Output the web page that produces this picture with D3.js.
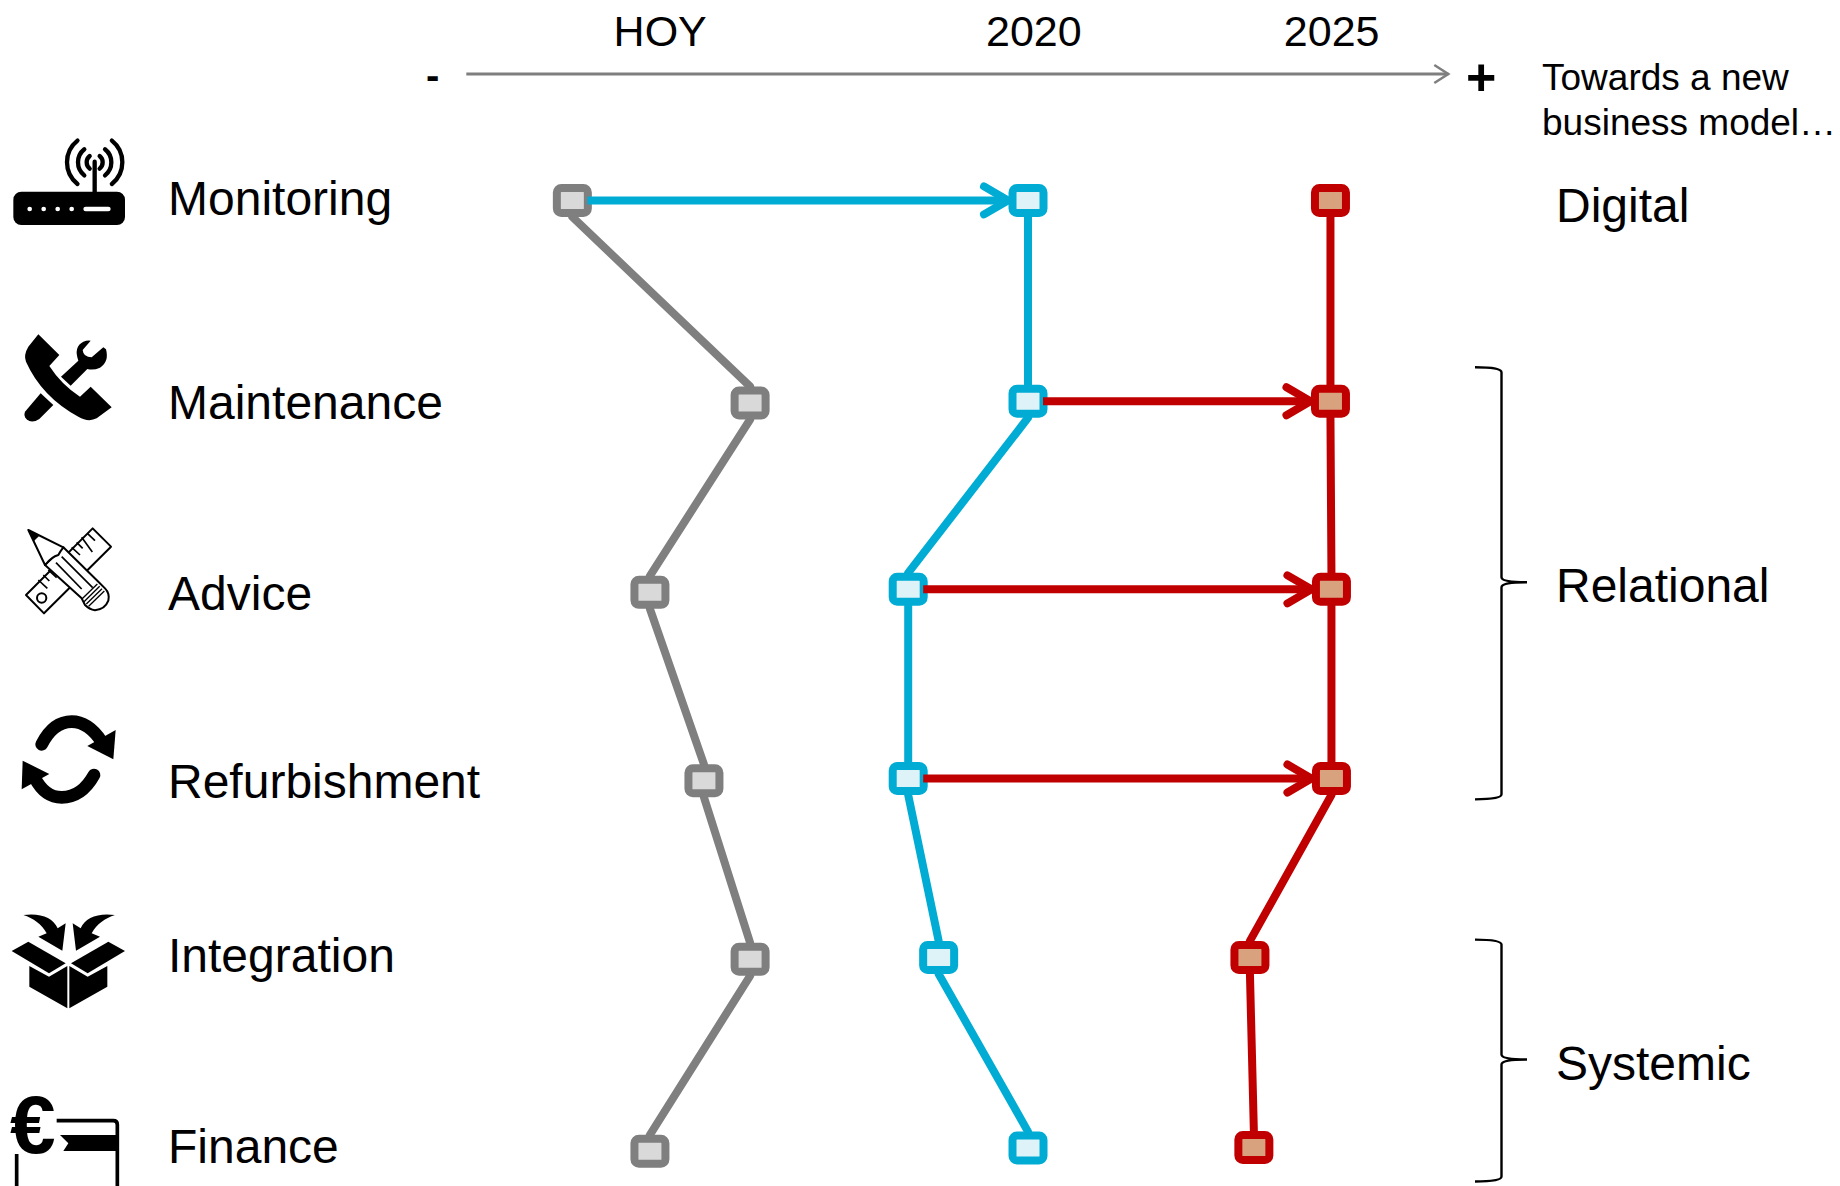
<!DOCTYPE html>
<html>
<head>
<meta charset="utf-8">
<script src="https://cdn.jsdelivr.net/npm/d3@7"></script>
<style>
html,body{margin:0;padding:0;background:#fff;overflow:hidden}
text{font-family:"Liberation Sans",Arial,sans-serif;fill:#000}
</style>
</head>
<body>
<svg id="chart" width="1840" height="1186"></svg>
<script>
// Service categories, top to bottom
const services = ["Monitoring","Maintenance","Advice","Refurbishment","Integration","Finance"];
const serviceRows = [0.078,1.155,2.16,3.152,4.072,5.078];

// Maturity score (0 = "-", 100 = "+") per service and period
const scoreToday = [10.8,28.9,18.7,24.2,28.9,18.7];
const score2020  = [57.2,57.2,45.0,45.0,48.1,57.2];
const score2025  = [88.0,88.0,88.1,88.1,79.8,80.2];

// Vertical placement of each point, in rows (slight per-period offsets)
const rowToday = [0,1.069,2.068,3.062,4.004,5.017];
const row2020  = [0,1.060,2.052,3.050,3.994,5.000];
const row2025  = [0,1.060,2.052,3.050,3.994,4.997];

// Transitions drawn as arrows: [service index] moving forward
const arrows2020 = [0];
const arrows2025 = [1,2,3];

const periodLabels = ["HOY","2020","2025"];
const periodScores = [15.0,52.92,83.25];

// Business model groups: label, first and last row of the bracket
const groupLabels = ["Digital","Relational","Systemic"];
const groupRows = [0.114,2.12,4.64];
const bracketFrom = [null,0.88,3.9];
const bracketTo   = [null,3.16,5.176];

const colors = {
  today:{line:"#7f7f7f",fill:"#d9d9d9"},
  y2020:{line:"#00acd4",fill:"#def3f8"},
  y2025:{line:"#c00000",fill:"#d9a27f"}
};

const svg = d3.select("#chart");
const x = d3.scaleLinear().domain([0,100]).range([466.3,1448.3]);
const y = d3.scaleLinear().domain([0,5]).range([200.4,1148.1]);

const series = [
  {key:"today",scores:scoreToday,rows:rowToday},
  {key:"y2020",scores:score2020,rows:row2020},
  {key:"y2025",scores:score2025,rows:row2025}
];

const fontLabel = 48, fontHead = 43, fontNote = 37;

// Header row and the "-" to "+" axis
svg.selectAll("text.period").data(periodLabels).join("text")
  .attr("class","period")
  .attr("x",(d,i)=>x(periodScores[i]))
  .attr("y",46).attr("font-size",fontHead).text(d=>d);

const axisY = 74;
svg.append("line").attr("x1",x(0)).attr("x2",x(100)).attr("y1",axisY).attr("y2",axisY)
  .attr("stroke","#7f7f7f").attr("stroke-width",3);
svg.append("path")
  .attr("d",d3.line()([[x(100)-14,axisY-9],[x(100),axisY],[x(100)-14,axisY+9]]))
  .attr("fill","none").attr("stroke","#7f7f7f").attr("stroke-width",2.5);
svg.append("text").attr("x",426).attr("y",89).attr("font-size",40).attr("font-weight","bold").text("-");
svg.append("text").attr("x",1466).attr("y",95).attr("font-size",52).attr("font-weight","bold").text("+");
svg.append("text").attr("x",1542).attr("y",89.5).attr("font-size",fontNote).text("Towards a new");
svg.append("text").attr("x",1542).attr("y",134.5).attr("font-size",fontNote).text("business model…");

// Service labels
svg.selectAll("text.service").data(services).join("text")
  .attr("class","service").attr("x",168)
  .attr("y",(d,i)=>y(serviceRows[i])).attr("font-size",fontLabel).text(d=>d);

// Group labels and curly brackets
svg.selectAll("text.group").data(groupLabels).join("text")
  .attr("class","group").attr("x",1556)
  .attr("y",(d,i)=>y(groupRows[i])).attr("font-size",fontLabel).text(d=>d);

groupLabels.forEach((g,i)=>{
  if(bracketFrom[i]===null) return;
  const t=y(bracketFrom[i]), b=y(bracketTo[i]), m=(t+b)/2;
  const p=d3.path();
  p.moveTo(1475,t);
  p.quadraticCurveTo(1501.5,t,1501.5,t+5);
  p.lineTo(1501.5,m-6);
  p.quadraticCurveTo(1501.5,m-1,1527,m-1);
  p.quadraticCurveTo(1501.5,m-1,1501.5,m+4);
  p.lineTo(1501.5,b-5);
  p.quadraticCurveTo(1501.5,b,1475,b);
  svg.append("path").attr("d",p.toString()).attr("fill","none")
    .attr("stroke","#000").attr("stroke-width",2.4);
});

// Period connectors run from the bottom of one marker to the top of the next
const markerW = 31, markerH = 25, markerStroke = 8;
const markerReach = (markerH + markerStroke) / 2;
const segment = d3.line();
series.forEach(s=>{
  d3.pairs(s.scores.map((v,i)=>[x(v),y(s.rows[i])])).forEach(([a,b])=>{
    svg.append("path")
      .attr("d",segment([[a[0],a[1]+markerReach],[b[0],b[1]-markerReach]]))
      .attr("fill","none").attr("stroke",colors[s.key].line)
      .attr("stroke-width",8).attr("stroke-linecap","round");
  });
});

// Point markers
series.forEach(s=>{
  svg.selectAll(null).data(s.scores).join("rect")
    .attr("x",d=>x(d)-markerW/2)
    .attr("y",(d,i)=>y(s.rows[i])-markerH/2)
    .attr("width",markerW).attr("height",markerH).attr("rx",4.5)
    .attr("fill",colors[s.key].fill)
    .attr("stroke",colors[s.key].line).attr("stroke-width",markerStroke);
});

// Forward arrows between periods
function drawArrow(fromScore,toScore,row,color){
  const x0=x(fromScore)+15, x1=x(toScore)-20, yy=y(row);
  svg.append("line").attr("x1",x0).attr("x2",x1-1).attr("y1",yy).attr("y2",yy)
    .attr("stroke",color).attr("stroke-width",8);
  svg.append("path").attr("d",d3.line()([[x1-24,yy-14],[x1,yy],[x1-24,yy+14]]))
    .attr("fill","none").attr("stroke",color).attr("stroke-width",8)
    .attr("stroke-linecap","round").attr("stroke-linejoin","miter");
}
arrows2020.forEach(i=>drawArrow(scoreToday[i],score2020[i],row2020[i],colors.y2020.line));
arrows2025.forEach(i=>drawArrow(score2020[i],score2025[i],row2025[i],colors.y2025.line));

// Pictograms, each authored on a 3x grid and placed at the row's left margin
const icons = svg.append("g");
function icon(oy){ return icons.append("g").attr("transform",`translate(0,${oy}) scale(${1/3})`); }

// Router
(function(){
  const g=icon(120);
  g.append("rect").attr("x",40).attr("y",215).attr("width",335).attr("height",100).attr("rx",24).attr("fill","#000");
  [89,131,173,215].forEach(cx=>g.append("circle").attr("cx",cx).attr("cy",267).attr("r",7).attr("fill","#fff"));
  g.append("rect").attr("x",250).attr("y",260).attr("width",82).attr("height",14).attr("rx",7).attr("fill","#fff");
  g.append("line").attr("x1",284).attr("x2",284).attr("y1",125).attr("y2",220).attr("stroke","#000").attr("stroke-width",13).attr("stroke-linecap","round");
  [[24,0.9],[50,0.9],[83,0.9]].forEach(([r,a])=>{
    [1,-1].forEach(sd=>{
      g.append("path").attr("d",`M${284+sd*r*Math.cos(a)},${127-r*Math.sin(a)} A${r},${r} 0 0 ${sd>0?1:0} ${284+sd*r*Math.cos(a)},${127+r*Math.sin(a)}`)
        .attr("fill","none").attr("stroke","#000").attr("stroke-width",13).attr("stroke-linecap","round");
    });
  });
})();

// Handset with wrench
(function(){
  const g=icon(120);
  g.append("path").attr("fill","#000").attr("d","M75,875 L122,820 L160,855 L118,897 Q95,912 80,898 Q70,888 75,875Z");
  g.append("path").attr("fill","#000").attr("d","M183,770 L235,722 Q220,680 250,665 Q262,660 272,662 L248,690 Q250,712 275,712 L310,682 L318,688 Q328,725 300,743 Q280,752 262,747 L212,797Z");
  g.append("path").attr("fill","#000").attr("d","M115,643 L178,705 L148,738 Q185,795 240,830 L272,800 L335,862 L290,895 Q265,908 235,890 Q125,830 78,725 Q70,705 85,680Z");
})();

// Pencil crossed over a ruler
(function(){
  const g=icon(510);
  const s={fill:"#fff",stroke:"#000","stroke-width":6,"stroke-linejoin":"round"};
  const apply=(el,o)=>{Object.entries(o).forEach(([k,v])=>el.attr(k,v));return el;};
  apply(g.append("path").attr("d","M278,55 L333,110 L132,310 L78,255Z"),s);
  g.append("circle").attr("cx",125).attr("cy",264).attr("r",14).attr("fill","#fff").attr("stroke","#000").attr("stroke-width",6);
  const ticks=[[115,210,142,235],[130,195,148,213],[145,180,170,203],[215,112,240,135],[230,97,248,115],[245,82,277,126],[262,70,285,92]];
  ticks.forEach(t=>g.append("line").attr("x1",t[0]).attr("y1",t[1]).attr("x2",t[2]).attr("y2",t[3]).attr("stroke","#000").attr("stroke-width",5));
  apply(g.append("path").attr("d","M135,165 L190,112 L295,215 L315,235 Q330,250 325,272 Q315,298 285,301 Q268,298 255,285 L245,265Z"),s);
  apply(g.append("path").attr("d","M85,60 L190,112 Q180,125 175,135 Q155,140 135,165Z"),s);
  g.append("path").attr("d","M85,60 L118,77 L102,93Z").attr("fill","#000");
  [[185,140,278,233],[168,158,245,237]].forEach(t=>g.append("line").attr("x1",t[0]).attr("y1",t[1]).attr("x2",t[2]).attr("y2",t[3]).attr("stroke","#000").attr("stroke-width",5));
  [[292,222,245,268],[299,229,252,275],[306,236,259,282],[313,243,266,289]].forEach(t=>g.append("line").attr("x1",t[0]).attr("y1",t[1]).attr("x2",t[2]).attr("y2",t[3]).attr("stroke","#000").attr("stroke-width",4));
})();

// Circular arrows
(function(){
  const g=icon(510);
  g.append("path").attr("d","M125,703 Q160,635 215,635 Q265,635 305,695").attr("fill","none").attr("stroke","#000").attr("stroke-width",38).attr("stroke-linecap","round");
  g.append("path").attr("d","M347,660 L340,748 L262,708Z").attr("fill","#000");
  g.append("path").attr("d","M282,795 Q245,862 185,862 Q135,862 105,805").attr("fill","none").attr("stroke","#000").attr("stroke-width",38).attr("stroke-linecap","round");
  g.append("path").attr("d","M68,752 L148,792 L65,838Z").attr("fill","#000");
})();

// Open box with incoming arrows
(function(){
  const g=icon(880);
  const polys=[
    "M35,213 L85,185 L197,250 L147,280Z",
    "M375,213 L325,185 L213,250 L263,280Z",
    "M88,258 L147,290 L202,258 L202,385 L88,320Z",
    "M322,258 L263,290 L208,258 L208,385 L322,320Z",
    "M70,105 C120,98 160,112 173,145 L197,130 L187,212 L115,170 L140,160 C125,132 100,115 70,105Z",
    "M345,105 C295,98 255,112 242,145 L218,130 L228,212 L300,170 L275,160 C290,132 315,115 345,105Z"
  ];
  polys.forEach(d=>g.append("path").attr("d",d).attr("fill","#000"));
})();

// Euro and payment card, which runs off the bottom edge
(function(){
  const g=icon(880);
  g.append("path").attr("fill","none").attr("stroke","#000").attr("stroke-width",11)
    .attr("d","M170,722 L340,722 Q352,722 352,734 L352,930");
  g.append("path").attr("fill","none").attr("stroke","#000").attr("stroke-width",11)
    .attr("d","M50,822 L50,930");
  g.append("path").attr("fill","#000").attr("d","M180,765 L352,765 L352,813 L190,813 L205,790Z");
  svg.append("text").attr("x",10).attr("y",1153).attr("font-size",82).attr("font-weight","bold").text("€");
})();
</script>
</body>
</html>
